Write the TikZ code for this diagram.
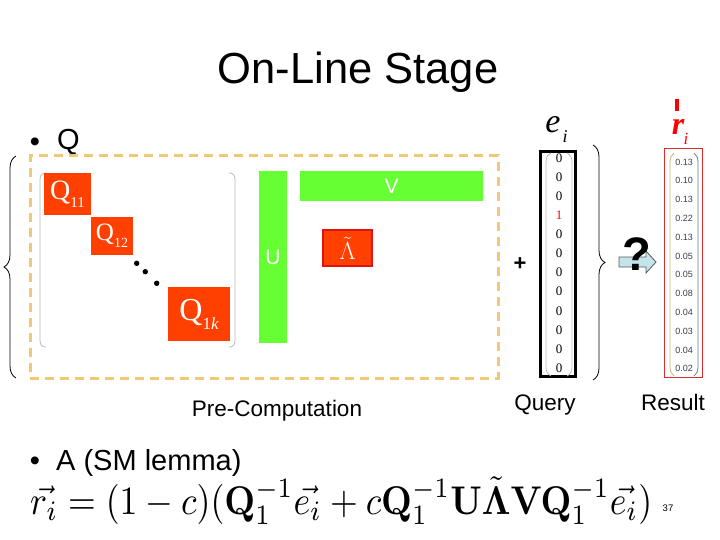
\documentclass[tikz,border=0pt]{standalone}
\usepackage{amsmath}
\usepackage{graphicx}
\usepackage[no-math]{fontspec}
\usetikzlibrary{decorations.pathreplacing}
\newfontfamily\arialf{Liberation Sans}
\newfontfamily\timesf{Liberation Serif}
\definecolor{qred}{RGB}{255,64,0}
\definecolor{lamedge}{RGB}{225,20,20}
\definecolor{gbarc}{RGB}{102,255,51}
\definecolor{dashc}{RGB}{240,200,120}
\definecolor{arrowc}{RGB}{195,228,232}
\definecolor{rboxc}{RGB}{220,45,45}
\definecolor{numc}{RGB}{60,60,80}
\definecolor{parc}{RGB}{185,185,195}
\tikzset{
  qbox/.style={fill=qred, text=white, inner sep=0pt, font=\timesf},
  gbar/.style={fill=gbarc, text=white, inner sep=0pt, font=\arialf\fontsize{21}{21}\selectfont},
  lbox/.style={fill=qred, draw=lamedge, line width=2pt, text=white, inner sep=0pt},
  lbl/.style={font=\arialf\fontsize{22.5}{24}\selectfont, anchor=base, inner sep=0pt},
  bigtxt/.style={font=\arialf\fontsize{29}{32}\selectfont, inner sep=0pt},
  entry/.style={font=\timesf\fontsize{13}{13}\selectfont, inner sep=0pt},
  rnum/.style={font=\arialf\fontsize{9}{9}\selectfont, text=numc, inner sep=0pt},
  bracecurl/.style={decorate, decoration={brace, amplitude=12pt, aspect=0.5}, line width=0.8pt},
  parline/.style={draw=parc, line width=0.8pt}
}
\begin{document}
\begin{tikzpicture}[x=1pt,y=-1pt]
\useasboundingbox (0,0) rectangle (720,540);
% title
\node[font=\arialf\fontsize{43.5}{48}\selectfont, anchor=base, inner sep=0pt] (title) at (358,84) {On-Line Stage};
% bullet Q
\node[bigtxt] (b1) at (35,145) {•};
\node[bigtxt, anchor=base west] (qlab) at (57,150) {Q};
% left brace
\coordinate (lbB) at (16,378);
\coordinate (lbT) at (16,156);
\draw[bracecurl] (lbB) -- (lbT);
% dashed region
\node[draw=dashc, line width=3pt, dash pattern=on 9pt off 6pt, minimum width=468, minimum height=222, inner sep=0pt] (pre) at (264,267) {};
% gray matrix parentheses
\draw[parline] (46,173) .. controls (42,173) and (40,175) .. (40,180) -- (40,340) .. controls (40,345) and (42,347) .. (46,347);
\draw[parline] (229,173) .. controls (233,173) and (235,175) .. (235,180) -- (235,340) .. controls (235,345) and (233,347) .. (229,347);
% Q blocks
\node[qbox, minimum width=47, minimum height=42] (q11) at (67.5,194) {\fontsize{28}{28}\selectfont Q\raisebox{-0.28em}{\fontsize{15}{15}\selectfont 11}};
\node[qbox, minimum width=42, minimum height=38] (q12) at (112,236) {\fontsize{25}{25}\selectfont Q\raisebox{-0.28em}{\fontsize{14}{14}\selectfont 12}};
\node[qbox, minimum width=62, minimum height=54] (q1k) at (199,314) {\fontsize{32}{32}\selectfont Q\raisebox{-0.28em}{\fontsize{17}{17}\selectfont 1\itshape k}};
\fill (136.7,263.3) circle (2.7) (145.3,271.7) circle (2.7) (156.7,283.3) circle (2.7);
% U, V, Lambda
\node[gbar, minimum width=28, minimum height=172] (U) at (273,257) {U};
\node[gbar, minimum width=183, minimum height=30] (V) at (391.5,186) {V};
\node[lbox, minimum width=49, minimum height=36] (lam) at (347.5,248) {\fontsize{24}{24}\selectfont$\tilde{\Lambda}$};
% plus
\node[font=\arialf\bfseries\fontsize{22}{22}\selectfont, inner sep=0pt] (plus) at (520,264) {+};
% e_i vector
\node[draw, line width=3pt, minimum width=35, minimum height=225, inner sep=0pt] (evec) at (558,264) {};
\draw[parline] (551,153) .. controls (547,155) and (546,158) .. (546,163) -- (546,366) .. controls (546,371) and (547,374) .. (551,376);
\draw[parline] (567,153) .. controls (571,155) and (572,158) .. (572,163) -- (572,366) .. controls (572,371) and (571,374) .. (567,376);
\foreach \i/\v in {0/0,1/0,2/0,4/0,5/0,6/0,7/0,8/0,9/0,10/0,11/0}
  \node[entry] (e\i) at (559,{158+19.1*\i}) {\v};
\node[entry, text=red] (e3) at (559,{158+19.1*3}) {1};
\node[font=\timesf\itshape\fontsize{34}{34}\selectfont, anchor=base, inner sep=0pt] (elab) at (553,133) {e};
\node[font=\timesf\itshape\fontsize{18}{18}\selectfont, anchor=base, inner sep=0pt] (elabi) at (565,143) {i};
% right brace
\coordinate (rbT) at (593,145);
\coordinate (rbB) at (593,380);
\draw[bracecurl] (rbT) -- (rbB);
% arrow and question mark
\draw[fill=arrowc, draw=gray!70!black, line width=0.8pt] (619,257) -- (646,257) -- (646,251) -- (656,262) -- (646,273) -- (646,267) -- (619,267) -- cycle;
\node[font=\arialf\bfseries\fontsize{47}{47}\selectfont, anchor=base, inner sep=0pt] (qm) at (637,270) {?};
% r_i vector
\node[draw=rboxc, line width=1.5pt, minimum width=38, minimum height=229, inner sep=0pt] (rvec) at (683.5,263) {};
\draw[draw={rgb,255:red,200;green,180;blue,110}, line width=0.8pt] (674,153) .. controls (671,155) and (670,158) .. (670,163) -- (670,366) .. controls (670,371) and (671,374) .. (674,376);
\draw[draw={rgb,255:red,110;green,120;blue,150}, line width=0.8pt] (694,153) .. controls (697,155) and (698,158) .. (698,163) -- (698,366) .. controls (698,371) and (697,374) .. (694,376);
\foreach \i/\v in {0/0.13,1/0.10,2/0.13,3/0.22,4/0.13,5/0.05,6/0.05,7/0.08,8/0.04,9/0.03,10/0.04,11/0.02}
  \node[rnum] (r\i) at (684,{162+18.8*\i}) {\v};
\node[font=\timesf\bfseries\itshape\fontsize{32}{32}\selectfont, text=red, anchor=base, inner sep=0pt] (rlab) at (678,135) {r};
\node[font=\timesf\itshape\fontsize{17}{17}\selectfont, text=red, anchor=base, inner sep=0pt] (rlabi) at (686,145) {i};
\fill[red] (674.5,99) rectangle (678.5,111);
% labels
\node[lbl] (lpre) at (277,416) {Pre-Computation};
\node[lbl] (lq) at (545,410) {Query};
\node[lbl] (lr) at (673,410) {Result};
% bullet A
\node[bigtxt] (b2) at (35,464) {•};
\node[bigtxt, anchor=base west] (alab) at (56,470) {A (SM lemma)};
% formula
\node[anchor=west, inner sep=0pt] (formula) at (30,501) {\resizebox{622pt}{37pt}{$\vec{r_i} = (1-c)(\mathbf{Q}_1^{-1}\vec{e_i} + c\mathbf{Q}_1^{-1}\mathbf{U}\tilde{\mathbf{\Lambda}}\mathbf{V}\mathbf{Q}_1^{-1}\vec{e_i})$}};
\node[font=\arialf\fontsize{9.5}{10}\selectfont, inner sep=0pt] (pg) at (668,508) {37};
\end{tikzpicture}
\end{document}
